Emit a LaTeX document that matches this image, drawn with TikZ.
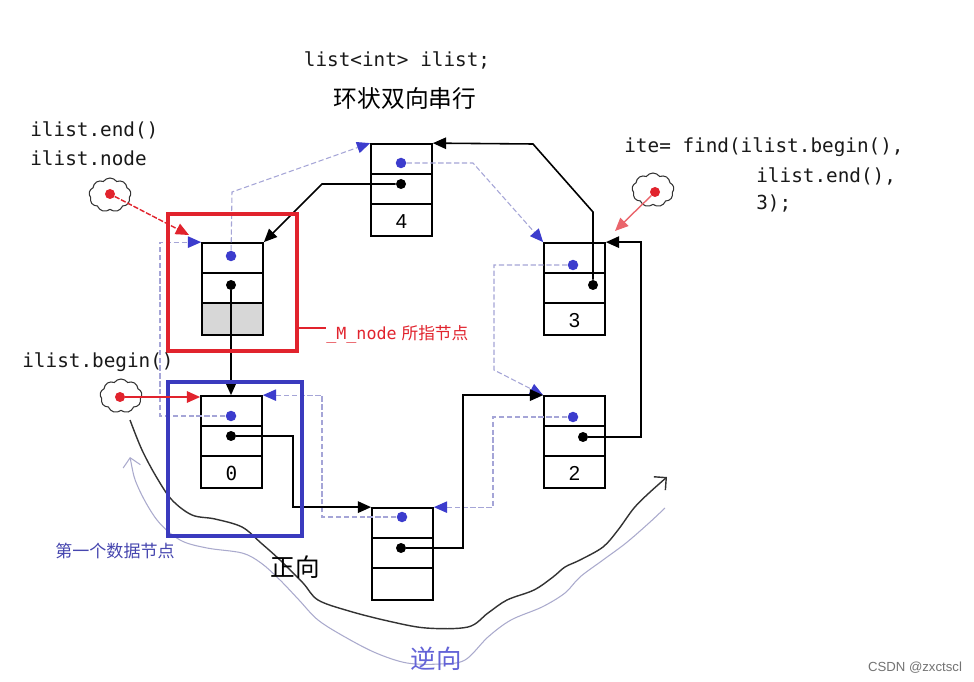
\documentclass[tikz,border=0pt]{standalone}
\usepackage{fontspec}
\setmainfont{Liberation Sans}
\newfontfamily\mono{DejaVu Sans Mono}
\newfontfamily\cjk{Noto Sans CJK SC}
\usetikzlibrary{arrows.meta,shapes.symbols,calc}
\definecolor{dotblue}{RGB}{60,60,205}
\definecolor{prevc}{RGB}{165,165,215}
\definecolor{redc}{RGB}{225,35,45}
\definecolor{rectblue}{RGB}{58,58,190}
\definecolor{txtblue}{RGB}{70,70,175}
\definecolor{wavec}{RGB}{170,170,205}
\definecolor{greyfill}{RGB}{215,215,215}
\tikzset{
  lbox/.style={draw, line width=1pt, minimum width=1.22cm, minimum height=1.84cm, inner sep=0pt},
  pdot/.style={circle, fill=dotblue, inner sep=0pt, minimum size=0.21cm},
  ndot/.style={circle, fill=black, inner sep=0pt, minimum size=0.2cm},
  rdot/.style={circle, fill=redc, inner sep=0pt, minimum size=0.2cm},
  fwd/.style={line width=0.9pt, -{Triangle[length=7.5pt,width=6.5pt]}},
  bwd/.style={draw=prevc, line width=0.6pt, dash pattern=on 3pt off 1.5pt, -{Triangle[length=7.5pt,width=6.5pt,color=dotblue,fill=dotblue]}},
  redarr/.style={draw=redc, line width=0.8pt, -{Triangle[length=7.5pt,width=6.5pt]}},
  cloudsh/.style={cloud, cloud puffs=9, cloud puff arc=110, draw=black!80, line width=0.6pt, minimum width=0.84cm, minimum height=0.68cm, inner sep=0pt},
  codetxt/.style={font=\mono\fontsize{11}{13}\selectfont, text=black!90, inner sep=0pt},
  valtxt/.style={font=\fontsize{11.5}{13}\selectfont, inner sep=0pt},
}
\newcommand\cellsep[1]{\draw[line width=1pt] ($(#1.north west)+(0,31)$) -- ($(#1.north east)+(0,31)$) ($(#1.north west)+(0,61)$) -- ($(#1.north east)+(0,61)$);}
\begin{document}
\begin{tikzpicture}[x=0.02cm,y=-0.02cm]
\useasboundingbox (0,0) rectangle (974,682);
\fill[white] (0,0) rectangle (974,682);

% wavy direction curves
\draw[wavec, line width=0.6pt, {Straight Barb[length=5pt]}-] plot[smooth, tension=0.55] coordinates {
 (130,457) (138,487) (157,520) (180,540) (207,548) (242,553) (261,563) (280,580) (299,600) (318,620)
 (345,637) (376,653) (407,663) (440,664) (465,660) (488,637) (511,620) (542,607) (565,593) (580,577)
 (603,560) (626,543) (649,523) (665,508)};
\draw[black!80, line width=0.8pt, -{Straight Barb[length=5pt]}] plot[smooth, tension=0.55] coordinates {
 (130,420) (142,450) (157,478) (172,500) (192,515) (215,519) (242,527) (261,543) (280,560) (303,583)
 (318,600) (349,611) (388,621) (426,628) (468,627) (488,613) (507,600) (534,590) (553,577) (565,567)
 (580,560) (603,547) (618,530) (634,508) (649,493) (667,477)};

% list nodes
\fill[greyfill] (202,304) rectangle (263,335);
\node[lbox] (bA) at (232.5,289) {};
\node[lbox] (b4) at (401.5,190) {};
\node[lbox] (b3) at (574.5,289) {};
\node[lbox] (b2) at (574.5,442) {};
\node[lbox] (b5) at (402.5,554) {};
\node[lbox] (b0) at (231.5,442) {};
\cellsep{bA}\cellsep{b4}\cellsep{b3}\cellsep{b2}\cellsep{b5}\cellsep{b0}

\node[valtxt] at ($(b4.south)+(0,-15)$) {4};
\node[valtxt] at ($(b3.south)+(0,-15)$) {3};
\node[valtxt] at ($(b2.south)+(0,-15)$) {2};
\node[valtxt, font=\mono\fontsize{11}{13}\selectfont] at ($(b0.south)+(0,-15)$) {0};

% dots
\node[pdot] (bAp) at (231,256) {};
\node[ndot] (bAn) at (231,285) {};
\node[pdot] (b4p) at (401,163) {};
\node[ndot] (b4n) at (401,184) {};
\node[pdot] (b3p) at (573,265) {};
\node[ndot] (b3n) at (593,285) {};
\node[pdot] (b2p) at (573,417) {};
\node[ndot] (b2n) at (583,437) {};
\node[pdot] (b5p) at (402,517) {};
\node[ndot] (b5n) at (401,548) {};
\node[pdot] (b0p) at (231,416) {};
\node[ndot] (b0n) at (231,436) {};

% backward (prev) links
\draw[bwd] (bAp) -- (232,192) -- (b4.north west);
\draw[bwd] (b4p) -- (473,163) -- (b3.north west);
\draw[bwd] (b3p) -- (494,265) -- (494,370) -- (b2.north west);
\draw[bwd] (b2p) -- (493,417) |- (b5.north east);
\draw[bwd] (b5p) -- (322,517) |- (b0.north east);
\draw[bwd] (b0p) -- (160,416) |- (bA.north west);

% forward (next) links
\draw[fwd] (bAn) -- (bAn |- b0.north);
\draw[fwd] (b0n) -- (293,436) |- (b5.north west);
\draw[fwd] (b5n) -- (463,548) |- (b2.north west);
\draw[fwd] (b2n) -- (641,437) |- (b3.north east);
\draw[fwd] (b3n) -- (593,212) -- (533,144) -- (b4.north east);
\draw[fwd] (b4n) -- (322,184) -- (bA.north east);

% highlight rectangles
\node[draw=redc, line width=1.8pt, minimum width=2.58cm, minimum height=2.74cm, inner sep=0pt] (redrect) at (232.5,282.5) {};
\node[draw=rectblue, line width=1.8pt, minimum width=2.68cm, minimum height=3.08cm, inner sep=0pt] (bluerect) at (235,459) {};

% iterators (clouds)
\node[cloudsh] (cEnd) at (110,195) {};
\node[rdot] (eEnd) at (110,194) {};
\coordinate (tEnd) at (189,235);
\draw[redarr, dash pattern=on 3pt off 1pt] (eEnd) -- (tEnd);

\node[cloudsh] (cBeg) at (121,396) {};
\node[rdot] (eBeg) at (120,397) {};
\draw[redarr] (eBeg) -- (eBeg -| b0.west);

\node[cloudsh] (cIte) at (653,190) {};
\node[rdot] (eIte) at (655,192) {};
\coordinate (tIte) at (615,231);
\draw[redarr, draw=redc!70] (eIte) -- (tIte);

% texts
\node[codetxt] (decl) at (397,60) {list<int> ilist;};
\node[inner sep=0pt, font=\cjk\fontsize{13.5}{16}\selectfont] (title) at (405,99) {环状双向串行};
\node[codetxt, anchor=west] (lend) at (30,130) {ilist.end()};
\node[codetxt, anchor=west] (lnode) at (30,158) {ilist.node};
\node[codetxt, anchor=west] (lbeg) at (22,362) {ilist.begin()};
\node[codetxt, anchor=west] (f1) at (624,147) {ite= find(ilist.begin(),};
\node[codetxt, anchor=west] (f2) at (756,176) {ilist.end(),};
\node[codetxt, anchor=west] (f3) at (756,204) {3);};

\node[anchor=west, inner sep=0pt, text=redc] (mlab) at (326,334) {{\mono\fontsize{9.5}{11}\selectfont \_M\_node} {\cjk\fontsize{9.5}{11}\selectfont 所指节点}};
\coordinate (mref) at (0,328);
\draw[redc, line width=0.6pt] (redrect.east |- mref) -- (mlab.west |- mref);

\node[inner sep=0pt, text=txtblue, font=\cjk\fontsize{9.7}{11}\selectfont] (first) at (115,551) {第一个数据节点};
\node[inner sep=0pt, font=\cjk\fontsize{14}{16}\selectfont] (fwdlab) at (295,567) {正向};
\node[inner sep=0pt, text=dotblue!80, font=\cjk\fontsize{14.5}{16}\selectfont] (bwdlab) at (436,659) {逆向};
\node[inner sep=0pt, text=black!55, font=\fontsize{7.5}{9}\selectfont] (wm) at (915,668) {CSDN @zxctscl};
\end{tikzpicture}
\end{document}
